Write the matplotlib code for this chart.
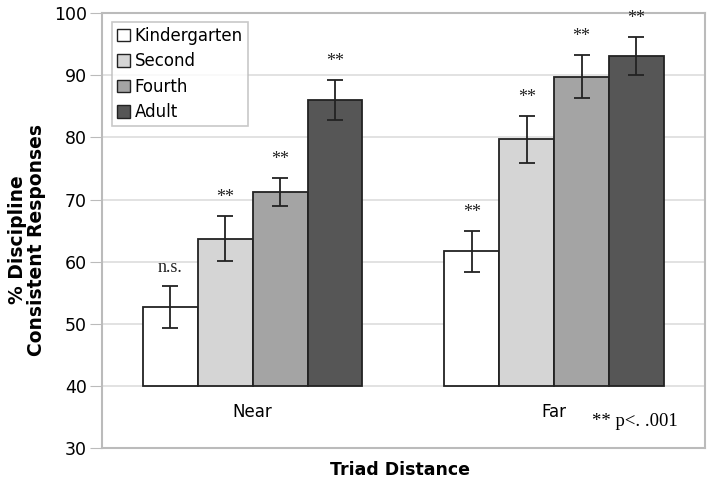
import numpy as np
from matplotlib import pyplot as plt
from matplotlib.patches import Patch

groups = ['Near', 'Far']
series = ['Kindergarten', 'Second', 'Fourth', 'Adult']
means = {
    'Kindergarten': [52.7, 61.7],
    'Second': [63.7, 79.7],
    'Fourth': [71.2, 89.8],
    'Adult': [86.0, 93.1],
}
errors = {
    'Kindergarten': [3.4, 3.3],
    'Second': [3.6, 3.8],
    'Fourth': [2.2, 3.4],
    'Adult': [3.2, 3.0],
}
marks = {
    'Kindergarten': ['n.s.', '**'],
    'Second': ['**', '**'],
    'Fourth': ['**', '**'],
    'Adult': ['**', '**'],
}
colors = ['#ffffff', '#d5d5d5', '#a4a4a4', '#565656']

base = 40
width = 0.182

fig = plt.figure(figsize=(7.12, 4.87), dpi=100)
ax = fig.add_axes([0.1433, 0.0801, 0.8467, 0.8929])

x = np.arange(len(groups))
for i, s in enumerate(series):
    pos = x + (i - 1.5) * width
    vals = np.array(means[s])
    ax.bar(pos, vals - base, width, bottom=base, color=colors[i],
           edgecolor='#222222', linewidth=1.3, zorder=3, label=s)
    ax.errorbar(pos, vals, yerr=errors[s], fmt='none', ecolor='#222222',
                elinewidth=1.3, capsize=6, capthick=1.3, zorder=4)
    for p, v, e, m in zip(pos, vals, errors[s], marks[s]):
        ax.text(p, v + e + 1.6, m, ha='center', va='bottom',
                family='Liberation Serif', fontsize=13,
                color='#222222', zorder=5)

for xi, g in zip(x, groups):
    ax.text(xi, 35.8, g, ha='center', va='center', fontsize=12, family='DejaVu Sans')
ax.text(1.125, 34.3, '** p<. .001', ha='left', va='center',
        family='Liberation Serif', fontsize=13.5)

ax.set_xlim(-0.5, 1.5)
ax.set_ylim(30, 100)
ax.set_yticks(np.arange(30, 101, 10))
ax.set_xticks([])
ax.tick_params(axis='y', labelsize=12.5, length=9, color='#bbbbbb', pad=2)
ax.grid(axis='y', color='#dddddd', linewidth=1.2, zorder=0)
for sp in ax.spines.values():
    sp.set_color('#bbbbbb')
    sp.set_linewidth(1.5)

fig.text(0.038, 0.507, '% Discipline\nConsistent Responses', rotation=90,
         ha='center', va='center', fontsize=13.5, fontweight='bold',
         linespacing=1.05)
fig.text(0.562, 0.035, 'Triad Distance', ha='center', va='center',
         fontsize=12.5, fontweight='bold')

handles = [Patch(facecolor=c, edgecolor='#222222', label=s) for c, s in zip(colors, series)]
leg = ax.legend(handles=handles, loc='upper left', bbox_to_anchor=(0.017, 0.98),
                fontsize=12, frameon=True, fancybox=False, handlelength=0.75,
                handleheight=0.75, handletextpad=0.3, labelspacing=0.45,
                borderpad=0.3, borderaxespad=0)
leg.get_frame().set_edgecolor('#bbbbbb')
leg.get_frame().set_linewidth(1.2)

fig.savefig('out.png', dpi=100)
